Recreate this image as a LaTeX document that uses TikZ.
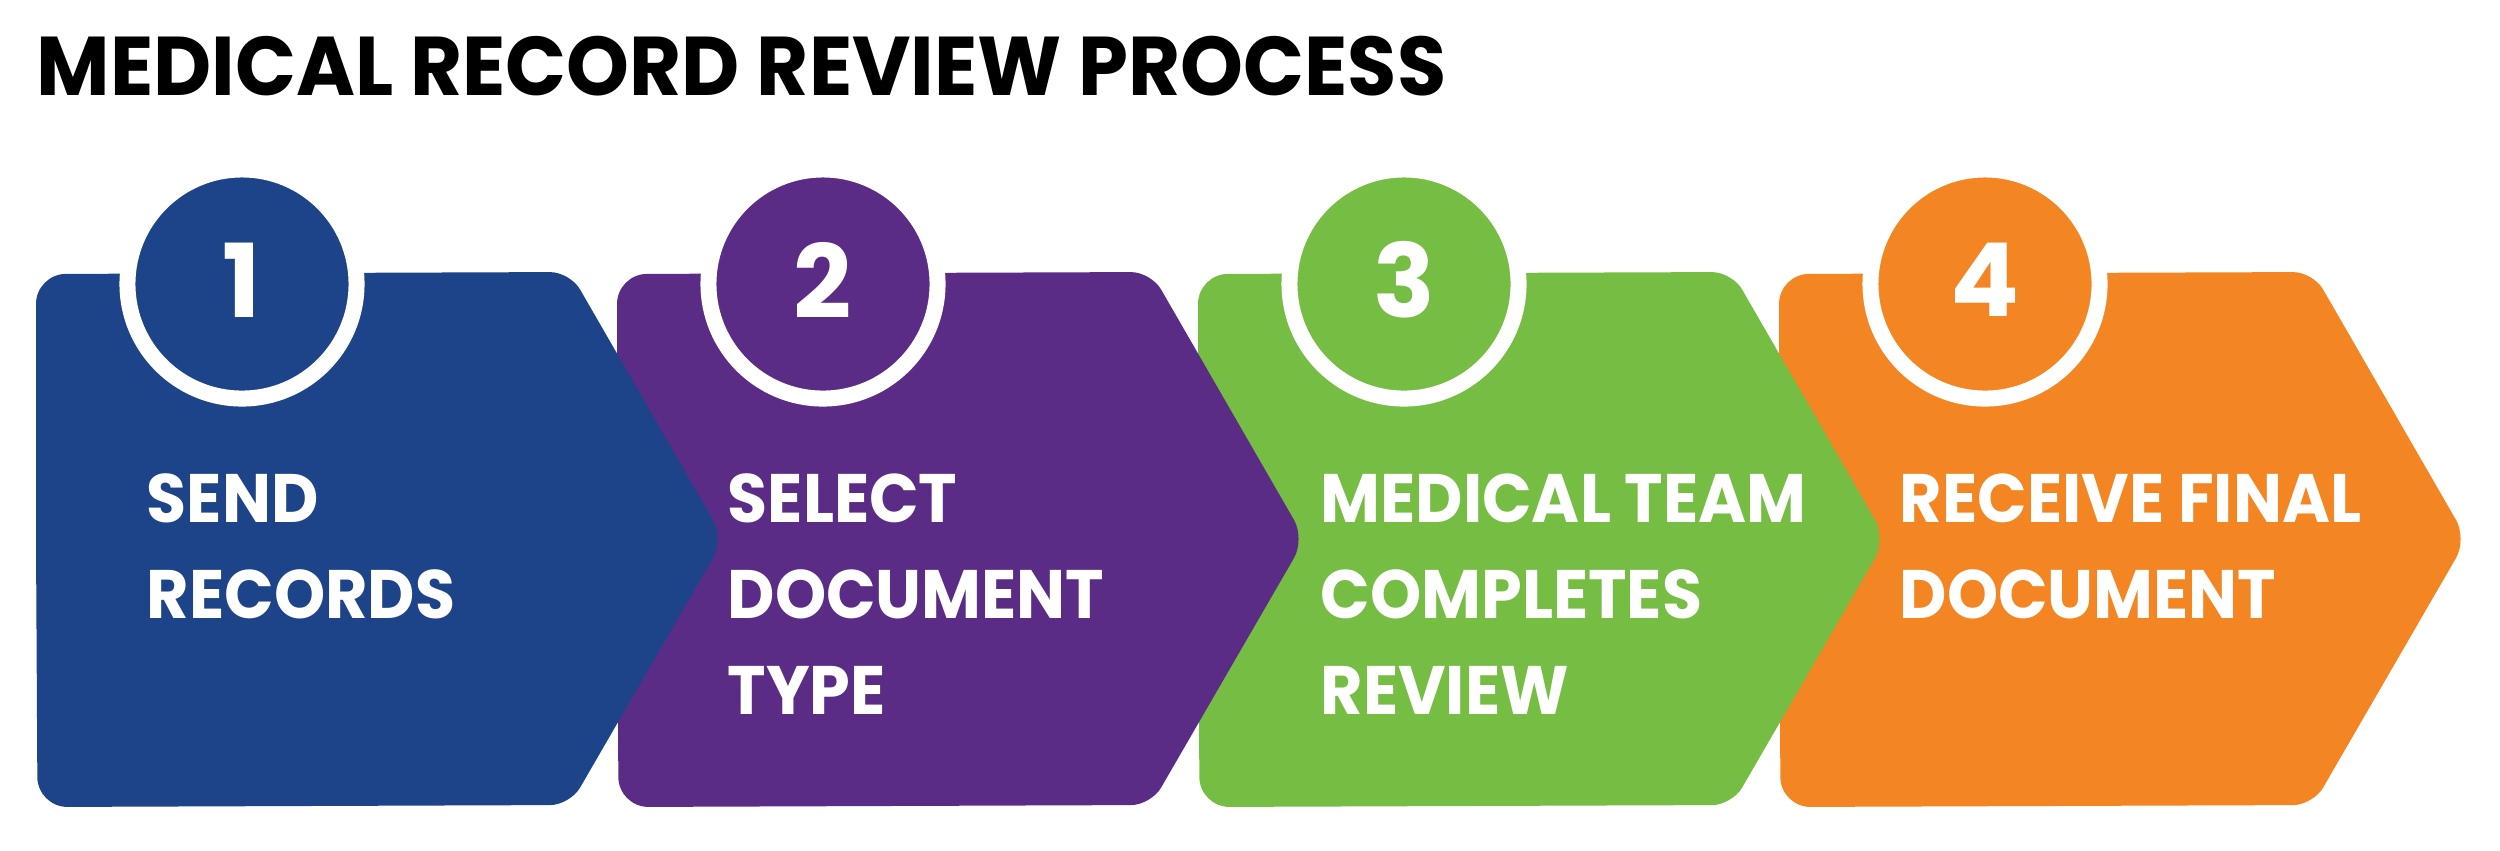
\documentclass[tikz,border=0pt]{standalone}
\usepackage{fontspec}
\newfontfamily\popb{Poppins Bold}
\definecolor{cblue}{HTML}{1D4488}
\definecolor{cpurple}{HTML}{5B2C86}
\definecolor{cgreen}{HTML}{76BD44}
\definecolor{corange}{HTML}{F38523}
\newcommand{\sqz}[1]{\scalebox{0.95}[1]{#1}}
\tikzset{
  numcirc/.style={circle, draw=white, line width=0.16cm, minimum size=2.29cm, inner sep=0pt},
  numtxt/.style={text=white, inner sep=0pt, font=\popb\fontsize{29}{30}\selectfont},
  steptxt/.style={anchor=base west, inner sep=0pt, text=white, font=\popb\fontsize{19.5}{24}\selectfont},
  titletxt/.style={anchor=base west, inner sep=0pt, text=black, font=\popb\fontsize{23.7}{28}\selectfont}
}
\begin{document}
\begin{tikzpicture}[x=0.01cm,y=-0.01cm]
\useasboundingbox[fill=white] (0,0) rectangle (2500,850);
\node[titletxt] (title) at (36,95) {\scalebox{0.96}[1]{MEDICAL RECORD REVIEW PROCESS}};
\foreach \i/\c in {4/corange,3/cgreen,2/cpurple,1/cblue} {
  \pgfmathsetmacro\L{36+581*(\i-1)}
  \fill[\c, rounded corners=0.3cm] (\L,540) -- (\L,274) [rounded corners=0.2cm] -- (\L+534,272) [rounded corners=0.22cm] -- (\L+688,539) [rounded corners=0.2cm] -- (\L+534,805) [rounded corners=0.3cm] -- (\L+1.5,807) -- cycle;
  \node[numcirc, fill=\c] (c\i) at (\L+206,284) {};
  \node[numtxt] (n\i) at (\L+206,280) {\i};
}
\node[steptxt] (s1a) at (146,522) {\sqz{SEND}};
\node[steptxt] (s1b) at (146,618) {\sqz{RECORDS}};
\node[steptxt] (s2a) at (727,522) {\sqz{SELECT}};
\node[steptxt] (s2b) at (727,618) {\sqz{DOCUMENT}};
\node[steptxt] (s2c) at (727,714) {\sqz{TYPE}};
\node[steptxt] (s3a) at (1320,522) {\sqz{MEDICAL TEAM}};
\node[steptxt] (s3b) at (1320,618) {\sqz{COMPLETES}};
\node[steptxt] (s3c) at (1320,714) {\sqz{REVIEW}};
\node[steptxt] (s4a) at (1899,522) {\sqz{RECEIVE FINAL}};
\node[steptxt] (s4b) at (1899,618) {\sqz{DOCUMENT}};
\end{tikzpicture}
\end{document}
